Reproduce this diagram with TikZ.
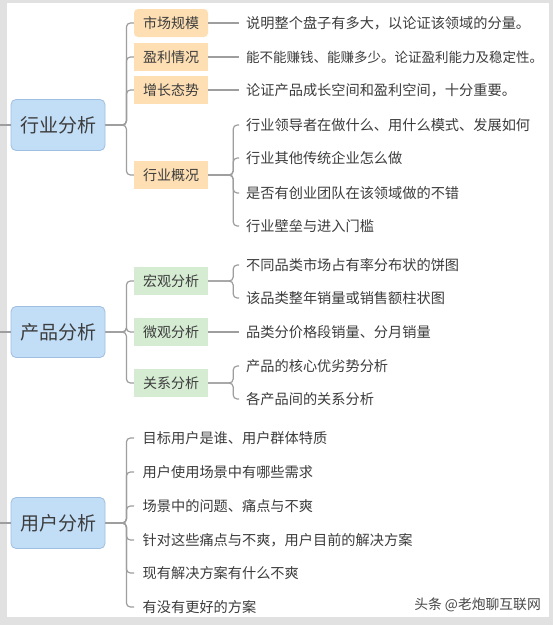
\documentclass[tikz,border=0pt]{standalone}
\usepackage{fontspec}
\setmainfont{Noto Sans CJK SC}

\definecolor{bggray}{HTML}{E1E1E1}
\definecolor{linegray}{HTML}{9E9E9E}
\definecolor{inktext}{HTML}{3C3C3C}
\definecolor{rootfill}{HTML}{C2DEF7}
\definecolor{rootline}{HTML}{9EBFDF}
\definecolor{tagorange}{HTML}{FDDFB3}
\definecolor{taggreen}{HTML}{D5ECD3}

\newcommand{\rootfont}{\fontsize{19}{22}\selectfont}
\newcommand{\tagfont}{\fontsize{14}{16}\selectfont}
\newcommand{\leaffont}{\fontsize{14.2}{16}\selectfont}
\newcommand{\tightfont}{\fontsize{13.5}{16}\selectfont}
\newcommand{\markfont}{\fontsize{13.8}{16}\selectfont}

\begin{document}
\begin{tikzpicture}[x=1pt, y=-1pt,
  every node/.style={text=inktext},
  branch/.style={draw=linegray, line width=1.2pt, rounded corners=4pt},
  rootbox/.style={draw=rootline, line width=0.8pt, fill=rootfill,
    rounded corners=5pt, minimum width=94pt, minimum height=51pt,
    inner sep=0pt, font=\rootfont},
  tagbox/.style={minimum width=74pt, minimum height=28pt, inner sep=0pt,
    font=\tagfont},
  leaf/.style={anchor=west, inner xsep=7pt, inner ysep=1pt, font=\leaffont}]

\useasboundingbox (0,0) rectangle (553,625);

% ============================================================ the panel
\fill[bggray] (0,0) rectangle (553,625);
\fill[white] (7,3) rectangle (549,617);

% ========================================================== the three roots
\node[rootbox] (rIndustry) at (58,125) {行业分析};
\node[rootbox] (rProduct)  at (58,332) {产品分析};
\node[rootbox] (rUser)     at (58,523) {用户分析};

% stubs coming in from the parent, which is off the page
\foreach \r/\y in {rIndustry/125, rProduct/332, rUser/523} {
  \coordinate (stub-\r) at (0,\y);
  \draw[branch] (stub-\r) -- (\r.west);
}

% ================================================================ industry
\node[tagbox, fill=tagorange, rounded corners=4pt] (gScale) at (171,23) {市场规模};
\node[tagbox, fill=tagorange] (gProfit) at (171,57)  {盈利情况};
\node[tagbox, fill=tagorange] (gGrowth) at (171,90)  {增长态势};
\node[tagbox, fill=tagorange] (gState)  at (171,175) {行业概况};

\foreach \g in {gScale, gProfit, gGrowth, gState}
  \draw[branch] (rIndustry.east) -- ++(21,0) |- (\g.west);

\node[leaf] (lScale)  at (239,23) {说明整个盘子有多大，以论证该领域的分量。};
% the longest line, set a little tighter so it stays inside the panel
\node[leaf, font=\tightfont] (lProfit) at (239,57) {能不能赚钱、能赚多少。论证盈利能力及稳定性。};
\node[leaf] (lGrowth) at (239,90) {论证产品成长空间和盈利空间，十分重要。};
\draw[branch] (gScale.east)  -- (lScale.west);
\draw[branch] (gProfit.east) -- (lProfit.west);
\draw[branch] (gGrowth.east) -- (lGrowth.west);

\foreach \y/\txt [count=\i] in {125/{行业领导者在做什么、用什么模式、发展如何},
    158/{行业其他传统企业怎么做}, 193/{是否有创业团队在该领域做的不错},
    226/{行业壁垒与进入门槛}} {
  \node[leaf] (lState\i) at (239,\y) {\txt};
  \draw[branch] (gState.east) -- ++(25,0) |- (lState\i.west);
}

% ================================================================= product
\node[tagbox, fill=taggreen] (gMacro) at (171,281) {宏观分析};
\node[tagbox, fill=taggreen] (gMicro) at (171,332) {微观分析};
\node[tagbox, fill=taggreen] (gLink)  at (171,383) {关系分析};

\foreach \g in {gMacro, gMicro, gLink}
  \draw[branch] (rProduct.east) -- ++(21,0) |- (\g.west);

\foreach \y/\txt [count=\i] in {265/{不同品类市场占有率分布状的饼图},
    298/{该品类整年销量或销售额柱状图}} {
  \node[leaf] (lMacro\i) at (239,\y) {\txt};
  \draw[branch] (gMacro.east) -- ++(25,0) |- (lMacro\i.west);
}

\node[leaf] (lMicro) at (239,332) {品类分价格段销量、分月销量};
\draw[branch] (gMicro.east) -- (lMicro.west);

\foreach \y/\txt [count=\i] in {366/{产品的核心优劣势分析},
    399/{各产品间的关系分析}} {
  \node[leaf] (lLink\i) at (239,\y) {\txt};
  \draw[branch] (gLink.east) -- ++(25,0) |- (lLink\i.west);
}

% ==================================================================== user
\foreach \y/\txt [count=\i] in {438/{目标用户是谁、用户群体特质},
    472/{用户使用场景中有哪些需求}, 506/{场景中的问题、痛点与不爽},
    540/{针对这些痛点与不爽，用户目前的解决方案},
    573/{现有解决方案有什么不爽}, 607/{有没有更好的方案}} {
  \node[leaf, inner xsep=8.5pt] (lUser\i) at (134,\y) {\txt};
  \draw[branch] (rUser.east) -- ++(21,0) |- (lUser\i.west);
}

% =============================================================== watermark
\node[anchor=east, font=\markfont, text=black!72, inner sep=0pt]
  (mark) at (541,605) {头条 @老炮聊互联网};

\end{tikzpicture}
\end{document}
